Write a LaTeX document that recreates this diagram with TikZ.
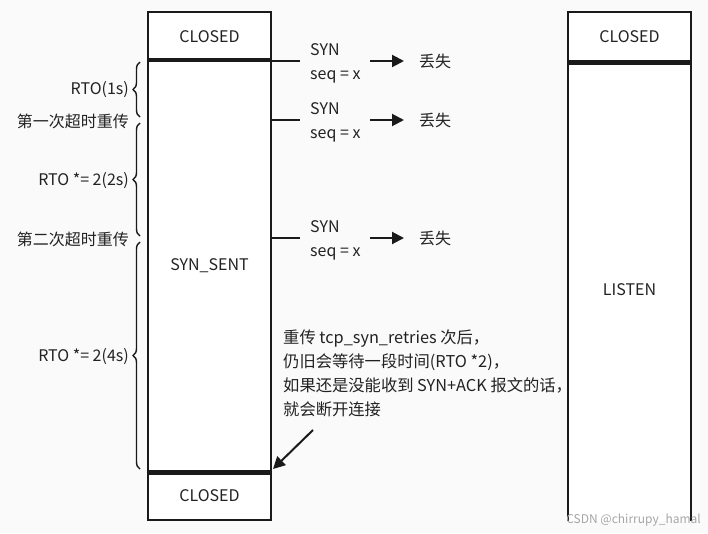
\documentclass[tikz,border=0pt]{standalone}
\usepackage{fontspec}
\setmainfont{Noto Sans CJK SC}
\usetikzlibrary{arrows.meta,decorations.pathreplacing}
\definecolor{ink}{HTML}{1A1A1A}
\definecolor{txt}{HTML}{222222}
\definecolor{paper}{HTML}{FAFAFA}
\tikzset{
  state/.style={draw=ink, line width=2.5pt, fill=white, minimum width=123pt,
    inner sep=0pt, font=\fontsize{16}{18}\selectfont, text=txt},
  sep/.style={ink, line width=4.5pt},
  conn/.style={ink, line width=2pt},
  arr/.style={ink, line width=2pt, -{Triangle[length=12pt,width=12pt]}},
  lbl/.style={font=\fontsize{16}{24}\selectfont, text=txt, inner sep=0pt},
  msg/.style={lbl, align=left, inner xsep=10pt, inner ysep=0pt, anchor=west},
  lost/.style={lbl, inner xsep=15pt, anchor=west},
  curly/.style={decorate, decoration={brace, amplitude=7pt}, ink, line width=1.4pt},
  side/.style={lbl, anchor=east}
}
\begin{document}
\begin{tikzpicture}[x=1pt,y=-1pt]
\fill[paper] (0,0) rectangle (708,533);
\useasboundingbox (0,0) rectangle (708,533);

% client column
\node[state, minimum height=49pt] (c1) at (209.5,36.5) {CLOSED};
\node[state, minimum height=410pt] (sent) at (209.5,266) {SYN\_SENT};
\node[state, minimum height=49pt] (c2) at (209.5,495.5) {CLOSED};
\draw[sep] (sent.north west) -- (sent.north east);
\draw[sep] (sent.south west) -- (sent.south east);

% server column (open at the bottom)
\fill[white] (568,61) rectangle (691,521);
\draw[ink, line width=2.5pt] (568,521) -- (568,61) -- (691,61) -- (691,521);
\node[state, minimum height=49pt] (s1) at (629.5,36.5) {CLOSED};
\draw[sep] (s1.south west) -- (s1.south east);
\node[lbl] (listen) at (629.5,290) {LISTEN};

% lost SYN segments
\foreach \i/\y in {1/61, 2/120, 3/238} {
  \node[msg] (syn\i) at (300,\y+2) {SYN\\seq = x};
  \node[lost] (lost\i) at (404,\y) {丢失};
  \draw[conn] (sent.east |- lost\i.west) -- (syn\i.west |- lost\i.west);
  \draw[arr] (370,\y) -- (lost\i.west);
}

% retransmission timers
\draw[curly] (140,117) -- (140,62);
\draw[curly] (140,236) -- (140,123);
\draw[curly] (140,469) -- (140,242);
\node[side] (t1) at (129,90) {RTO(1s)};
\node[side] (r1) at (129,121) {第一次超时重传};
\node[side] (t2) at (129,181) {RTO *= 2(2s)};
\node[side] (r2) at (129,239) {第二次超时重传};
\node[side] (t3) at (129,357) {RTO *= 2(4s)};

% note on giving up
\node[lbl, align=left, anchor=north west, font=\fontsize{16.3}{24}\selectfont] (note) at (283,330)
  {重传 tcp\_syn\_retries 次后，\\仍旧会等待一段时间(RTO *2)，\\如果还是没能收到 SYN+ACK 报文的话，\\就会断开连接};
\coordinate (tail) at (313,430);
\draw[arr] (tail) -- (273,469);

% watermark
\node[lbl, font=\fontsize{12}{13}\selectfont, text=gray!70, anchor=east] (wm) at (701,520) {CSDN @chirrupy\_hamal};
\end{tikzpicture}
\end{document}
